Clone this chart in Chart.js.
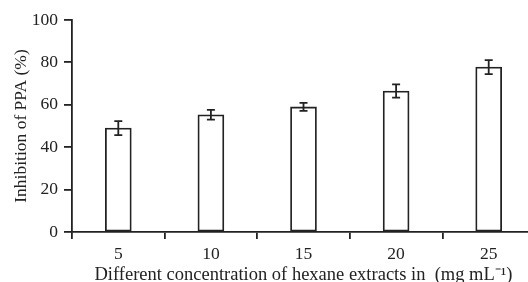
<!DOCTYPE html>
<html><head><meta charset="utf-8">
<script src="https://cdn.jsdelivr.net/npm/chart.js@4"></script>
<style>
html,body{margin:0;padding:0;background:#fff;overflow:hidden;width:528px;height:282px;}
#wrap{width:535px;height:282px;position:relative;}
</style></head>
<body><div id="wrap"><canvas id="c"></canvas></div>
<script>
const categories = ['5', '10', '15', '20', '25'];
const inhibition = [49, 55.3, 59, 66.5, 77.8];
const errors = [3.3, 2.3, 1.9, 3.1, 3.3];
const yTicks = [0, 20, 40, 60, 80, 100];

const FONT = "'Liberation Serif', 'Times New Roman', serif";
const INK = '#222';

const errorBars = {
  id: 'errorBars',
  afterDatasetsDraw(chart) {
    const ctx = chart.ctx, y = chart.scales.y;
    const meta = chart.getDatasetMeta(0);
    ctx.save();
    ctx.strokeStyle = INK; ctx.lineWidth = 1.8;
    meta.data.forEach((bar, i) => {
      const v = inhibition[i], e = errors[i];
      const yt = y.getPixelForValue(v + e), yb = y.getPixelForValue(v - e);
      const x = bar.x, w = 4;
      ctx.beginPath();
      ctx.moveTo(x, yt); ctx.lineTo(x, yb);
      ctx.moveTo(x - w, yt); ctx.lineTo(x + w, yt);
      ctx.moveTo(x - w, yb); ctx.lineTo(x + w, yb);
      ctx.stroke();
    });
    ctx.restore();
  }
};

new Chart(document.getElementById('c'), {
  type: 'bar',
  data: {
    labels: categories,
    datasets: [{
      data: inhibition,
      backgroundColor: '#fff',
      borderColor: INK,
      borderWidth: 1.8,
      barThickness: 26,
      borderSkipped: false
    }]
  },
  options: {
    responsive: true,
    maintainAspectRatio: false,
    animation: false,
    devicePixelRatio: 1,
    layout: { padding: { top: 20, left: 0, right: 0, bottom: 0 } },
    plugins: { legend: { display: false }, tooltip: { enabled: false } },
    scales: {
      x: {
        offset: true,
        grid: { offset: true, drawOnChartArea: false, drawTicks: true, tickLength: 7, color: INK, lineWidth: 1.8 },
        border: { display: true, color: INK, width: 1.8 },
        ticks: { color: INK, font: { family: FONT, size: 17.5 }, padding: 5 },
        title: { display: true, text: 'Different concentration of hexane extracts in  (mg mL\u207B\u00B9)', color: INK, font: { family: FONT, size: 18.5 }, padding: { top: 0, bottom: -4 } },
        afterFit(s) { s.height = 50; }
      },
      y: {
        min: 0, max: 100,
        afterBuildTicks(s) { s.ticks = yTicks.map(v => ({ value: v })); },
        grid: { drawOnChartArea: false, drawTicks: true, tickLength: 8, color: INK, lineWidth: 1.8 },
        border: { display: true, color: INK, width: 1.8 },
        ticks: { color: INK, font: { family: FONT, size: 17.5 }, padding: 6 },
        title: { display: true, text: 'Inhibition of PPA (%)', color: INK, font: { family: FONT, size: 17.5 }, padding: { top: 11, bottom: 0 } },
        afterFit(s) { s.width = 72; }
      }
    }
  },
  plugins: [errorBars]
});
</script></body></html>
